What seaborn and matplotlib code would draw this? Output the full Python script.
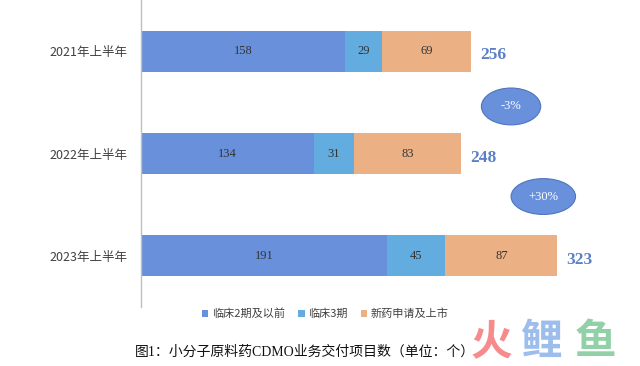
import pandas as pd
import matplotlib.pyplot as plt
from matplotlib.patches import Ellipse, Patch
import seaborn as sns

# 数据
periods = ["2021年上半年", "2022年上半年", "2023年上半年"]
phase2 = [158, 134, 191]
phase3 = [29, 31, 45]
nda = [69, 83, 87]
changes = ["-3%", "+30%"]
series = ["临床2期及以前", "临床3期", "新药申请及上市"]
colors = ["#6991DB", "#63ACDF", "#EBB185"]

df = pd.DataFrame({"period": periods, "p2": phase2, "p3": phase3, "nda": nda})
df["c2"] = df["p2"]
df["c3"] = df["p2"] + df["p3"]
df["total"] = df["c3"] + df["nda"]

sns.set_theme(style="white")
plt.rcParams["font.family"] = ["Noto Sans CJK SC", "DejaVu Sans"]

fig = plt.figure(figsize=(6.4, 3.66), dpi=100)
ax = fig.add_axes([0.2203, 0.161, 0.7797, 0.839])

# 堆叠条形：先画累计总数，再覆盖
for col, c in zip(["total", "c3", "c2"], colors[::-1]):
    sns.barplot(data=df, x=col, y="period", color=c, orient="h", width=0.4,
                saturation=1, ax=ax, edgecolor="none")

ax.set_xlim(0, 387)
ax.set_ylim(2.5, -0.5)
ax.set_xlabel("")
ax.set_ylabel("")
ax.set_xticks([])
for s in ["top", "right", "bottom"]:
    ax.spines[s].set_visible(False)
ax.spines["left"].set_color("#BFBFBF")
ax.spines["left"].set_linewidth(1)
ax.tick_params(axis="y", length=0, pad=10, labelsize=9, labelcolor="#404040")

serif = ["Liberation Serif", "Noto Sans CJK SC"]
for i, row in df.iterrows():
    ax.text(row["p2"] / 2, i, str(row["p2"]), ha="center", va="center",
            fontsize=9, color="#333333", family=serif)
    ax.text(row["c2"] + row["p3"] / 2, i, str(row["p3"]), ha="center", va="center",
            fontsize=9, color="#333333", family=serif)
    ax.text(row["c3"] + row["nda"] / 2, i, str(row["nda"]), ha="center", va="center",
            fontsize=9, color="#333333", family=serif)
    ax.text(row["total"] + 7, i + 0.04, str(row["total"]), ha="left", va="center",
            fontsize=12.5, fontweight="bold", color="#5B80C8", family=serif)

# 增长率椭圆
for (cx, cy, w, h), txt in zip([(287, 0.54, 46, 0.36), (312, 1.42, 50, 0.35)], changes):
    ax.add_patch(Ellipse((cx, cy), w, h, facecolor="#6991DB", edgecolor="#4F74BE",
                         linewidth=0.8, clip_on=False))
    ax.text(cx, cy, txt, ha="center", va="center", fontsize=9, color="white",
            family=serif)

handles = [Patch(facecolor=c, edgecolor="none") for c in colors]
fig.legend(handles, series, loc="center", bbox_to_anchor=(0.508, 0.142), ncol=3,
           frameon=False, fontsize=8, handlelength=0.6, handleheight=0.6,
           handletextpad=0.3, columnspacing=1.2, labelcolor="#404040")

fig.text(0.477, 0.038, "图1：小分子原料药CDMO业务交付项目数（单位：个）", ha="center",
         va="center", fontsize=10, color="#111111", family=serif)

# 水印
for x, ch, c in [(0.767, "火", "#F47F7F"), (0.845, "鲤", "#93B7EB"), (0.93, "鱼", "#86CC9E")]:
    fig.text(x, 0.065, ch, ha="center", va="center", fontsize=30, fontweight="bold",
             color=c, alpha=0.9)

fig.savefig("out.png", dpi=100)
